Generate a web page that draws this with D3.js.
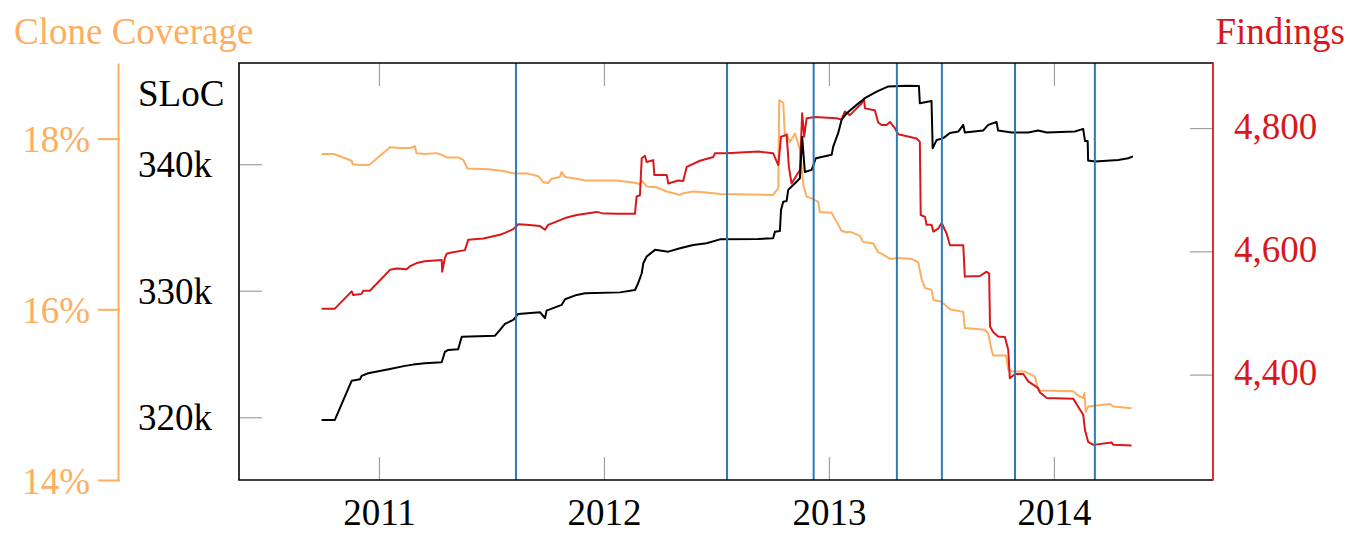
<!DOCTYPE html>
<html><head><meta charset="utf-8">
<script src="https://cdn.jsdelivr.net/npm/d3@7"></script>
<style>
body{margin:0;background:#fff}
svg{display:block}
text{font-family:"Liberation Serif","DejaVu Serif",serif}
</style>
</head><body>
<svg id="chart" width="1351" height="546"></svg>
<script>
// ---- data (time as decimal year) ----
const yearTicks = [2011, 2012, 2013, 2014];
const slocTicks = [320, 330, 340];
const findingsTicks = [4400, 4600, 4800];
const cloneTicks = [14, 16, 18];
const releases = [2011.609, 2012.547, 2012.932, 2013.302, 2013.502, 2013.827, 2014.182];

const sloc = [[2010.745,319.79],[2010.804,319.79],[2010.879,322.89],[2010.916,323.0],[2010.923,323.27],[2010.952,323.48],[2011.049,323.82],[2011.116,324.06],[2011.152,324.16],[2011.204,324.27],[2011.279,324.35],[2011.293,325.16],[2011.308,325.32],[2011.352,325.38],[2011.368,326.37],[2011.516,326.45],[2011.538,326.9],[2011.560,327.38],[2011.597,327.69],[2011.619,328.17],[2011.716,328.3],[2011.738,327.83],[2011.745,328.43],[2011.812,328.88],[2011.827,329.33],[2011.879,329.67],[2011.916,329.8],[2012.071,329.87],[2012.138,330.06],[2012.152,330.59],[2012.168,331.38],[2012.175,332.17],[2012.190,332.7],[2012.227,333.23],[2012.286,333.09],[2012.338,333.36],[2012.397,333.62],[2012.456,333.75],[2012.516,334.06],[2012.686,334.09],[2012.752,334.15],[2012.760,334.67],[2012.782,334.73],[2012.787,336.39],[2012.797,337.04],[2012.812,337.1],[2012.819,337.97],[2012.856,338.62],[2012.871,338.89],[2012.881,342.16],[2012.893,339.39],[2012.923,339.55],[2012.942,340.47],[2013.012,340.74],[2013.019,341.39],[2013.041,342.45],[2013.056,343.5],[2013.079,344.03],[2013.123,344.69],[2013.160,345.22],[2013.212,345.74],[2013.264,346.15],[2013.345,346.21],[2013.400,346.19],[2013.404,344.82],[2013.456,345.0],[2013.461,341.26],[2013.479,341.92],[2013.508,342.06],[2013.538,342.47],[2013.575,342.58],[2013.597,343.11],[2013.604,342.51],[2013.686,342.67],[2013.708,343.11],[2013.745,343.34],[2013.752,342.66],[2013.812,342.5],[2013.886,342.5],[2013.930,342.66],[2013.968,342.51],[2014.093,342.58],[2014.130,342.79],[2014.138,341.84],[2014.150,341.84],[2014.152,340.3],[2014.182,340.21],[2014.286,340.34],[2014.330,340.47],[2014.351,340.62]];

const findings = [[2010.745,4507],[2010.804,4507],[2010.879,4535],[2010.886,4529],[2010.923,4531],[2010.930,4536],[2010.960,4536],[2011.049,4570],[2011.079,4572],[2011.123,4571],[2011.138,4576],[2011.168,4581],[2011.204,4584],[2011.279,4586],[2011.281,4567],[2011.293,4589],[2011.301,4596],[2011.323,4598],[2011.382,4602],[2011.397,4619],[2011.464,4621],[2011.538,4627],[2011.560,4630],[2011.597,4636],[2011.619,4644],[2011.656,4643],[2011.716,4641],[2011.738,4635],[2011.752,4643],[2011.827,4654],[2011.879,4659],[2011.916,4661],[2011.968,4664],[2011.990,4662],[2012.056,4661],[2012.138,4661],[2012.145,4689],[2012.160,4691],[2012.168,4751],[2012.182,4755],[2012.190,4745],[2012.219,4748],[2012.224,4724],[2012.279,4724],[2012.286,4710],[2012.330,4715],[2012.352,4714],[2012.368,4737],[2012.427,4747],[2012.486,4753],[2012.493,4759],[2012.545,4759],[2012.686,4762],[2012.752,4759],[2012.775,4740],[2012.787,4786],[2012.812,4789],[2012.822,4737],[2012.834,4710],[2012.871,4732],[2012.881,4824],[2012.890,4786],[2012.901,4816],[2012.938,4818],[2013.034,4816],[2013.056,4814],[2013.071,4827],[2013.093,4821],[2013.123,4832],[2013.145,4840],[2013.156,4848],[2013.160,4832],[2013.204,4829],[2013.219,4809],[2013.234,4805],[2013.256,4805],[2013.271,4810],[2013.293,4800],[2013.308,4790],[2013.390,4783],[2013.404,4778],[2013.408,4659],[2013.427,4656],[2013.434,4643],[2013.456,4643],[2013.464,4632],[2013.486,4637],[2013.501,4646],[2013.523,4629],[2013.538,4610],[2013.597,4610],[2013.604,4559],[2013.671,4560],[2013.701,4567],[2013.712,4564],[2013.716,4478],[2013.730,4469],[2013.752,4462],[2013.782,4461],[2013.797,4440],[2013.804,4394],[2013.827,4401],[2013.864,4401],[2013.886,4389],[2013.930,4378],[2013.938,4371],[2013.968,4362],[2014.086,4361],[2014.108,4348],[2014.130,4335],[2014.138,4310],[2014.152,4291],[2014.175,4286],[2014.256,4290],[2014.264,4286],[2014.345,4285]];

const cloneCoverage = [[2010.745,17.82],[2010.800,17.82],[2010.879,17.74],[2010.883,17.70],[2010.916,17.69],[2010.957,17.69],[2011.049,17.90],[2011.093,17.89],[2011.138,17.89],[2011.160,17.91],[2011.166,17.83],[2011.204,17.82],[2011.256,17.83],[2011.279,17.81],[2011.301,17.78],[2011.352,17.78],[2011.375,17.75],[2011.394,17.65],[2011.486,17.64],[2011.552,17.62],[2011.604,17.59],[2011.664,17.59],[2011.708,17.56],[2011.730,17.49],[2011.752,17.48],[2011.768,17.53],[2011.804,17.55],[2011.812,17.61],[2011.827,17.55],[2011.879,17.53],[2011.916,17.51],[2012.056,17.51],[2012.145,17.48],[2012.160,17.46],[2012.168,17.51],[2012.190,17.44],[2012.234,17.43],[2012.279,17.38],[2012.338,17.34],[2012.352,17.36],[2012.397,17.38],[2012.456,17.37],[2012.516,17.35],[2012.752,17.34],[2012.775,17.42],[2012.779,18.45],[2012.797,18.42],[2012.804,18.04],[2012.812,18.06],[2012.827,17.96],[2012.849,18.06],[2012.871,17.87],[2012.886,17.46],[2012.901,17.32],[2012.923,17.30],[2012.952,17.26],[2012.960,17.14],[2013.012,17.13],[2013.056,16.92],[2013.079,16.90],[2013.093,16.91],[2013.138,16.86],[2013.152,16.79],[2013.197,16.77],[2013.219,16.67],[2013.241,16.64],[2013.271,16.59],[2013.308,16.60],[2013.368,16.59],[2013.397,16.55],[2013.412,16.35],[2013.427,16.25],[2013.456,16.23],[2013.464,16.11],[2013.501,16.09],[2013.538,16.00],[2013.597,15.97],[2013.604,15.78],[2013.693,15.76],[2013.708,15.72],[2013.723,15.52],[2013.730,15.46],[2013.787,15.46],[2013.797,15.29],[2013.819,15.27],[2013.871,15.27],[2013.916,15.21],[2013.930,15.05],[2014.086,15.04],[2014.107,14.99],[2014.130,14.96],[2014.136,15.02],[2014.141,14.80],[2014.152,14.86],[2014.249,14.89],[2014.264,14.86],[2014.345,14.84]];

// ---- layout ----
const L = 239, R = 1213, T = 63, B = 480;
const FS = 37;
const FONT = '"Liberation Serif","DejaVu Serif",serif';
const ORANGE = "#fdae61", RED = "#d7191c", BLUE = "#2c7bb6", GRAY = "#a0a0a0";

const svg = d3.select("#chart");

const x = d3.scaleLinear().domain([2010.378, 2014.707]).range([L, R]);
const ySloc = d3.scaleLinear().domain([315.04, 348.0]).range([B, T]);
const yFind = d3.scaleLinear().domain([4229, 4905.6]).range([B, T]);
const yClone = d3.scaleLinear().domain([14, 18.886]).range([B, T]);

function styleAxis(g, color, textColor) {
  g.attr("font-family", null).attr("font-size", null);
  g.selectAll(".tick line").attr("stroke", color).attr("stroke-width", 1.2);
  g.selectAll(".tick text").attr("fill", textColor).style("font-size", FS + "px")
    .style("font-family", FONT);
}

// x axis bottom (ticks inward) with labels
const xAxisB = svg.append("g").attr("transform", `translate(0,${B})`)
  .call(d3.axisBottom(x).tickValues(yearTicks).tickFormat(d3.format("d"))
    .tickSizeInner(-23).tickSizeOuter(0).tickPadding(19));
xAxisB.select(".domain").remove();
styleAxis(xAxisB, GRAY, "#000");

// x axis top ticks
const xAxisT = svg.append("g").attr("transform", `translate(0,${T})`)
  .call(d3.axisTop(x).tickValues(yearTicks).tickFormat("").tickSizeInner(-23).tickSizeOuter(0));
xAxisT.select(".domain").remove();
styleAxis(xAxisT, GRAY, "#000");

// SLoC axis (left, inner ticks)
const slocAxis = svg.append("g").attr("transform", `translate(${L},0)`)
  .call(d3.axisLeft(ySloc).tickValues(slocTicks).tickFormat(d => d + "k")
    .tickSizeInner(-23).tickSizeOuter(0).tickPadding(18));
slocAxis.select(".domain").remove();
styleAxis(slocAxis, GRAY, "#000");
slocAxis.selectAll(".tick text").attr("dy", "0.34em").attr("text-anchor", "start").attr("x", 138 - L);

// Findings axis (right, inner ticks)
const findAxis = svg.append("g").attr("transform", `translate(${R},0)`)
  .call(d3.axisRight(yFind).tickValues(findingsTicks).tickFormat(d3.format(","))
    .tickSizeInner(-23).tickSizeOuter(0).tickPadding(21));
findAxis.select(".domain").remove();
styleAxis(findAxis, GRAY, RED);
findAxis.selectAll(".tick text").attr("dy", "0.27em");

// Clone coverage axis (separate, left)
const cloneAxis = svg.append("g").attr("transform", `translate(118,0)`)
  .call(d3.axisLeft(yClone).tickValues(cloneTicks).tickFormat(d => d + "%")
    .tickSizeInner(20).tickSizeOuter(0).tickPadding(8));
cloneAxis.select(".domain").attr("stroke", ORANGE).attr("stroke-width", 2);
styleAxis(cloneAxis, ORANGE, ORANGE);
cloneAxis.selectAll(".tick line").attr("stroke-width", 2).attr("x2", -20).attr("x1", 2);
cloneAxis.selectAll(".tick text").attr("dy", "0.36em");

// data lines
const plot = svg.append("g");
const lineSloc = d3.line().x(d => x(d[0])).y(d => ySloc(d[1]));
const lineFind = d3.line().x(d => x(d[0])).y(d => yFind(d[1]));
const lineClone = d3.line().x(d => x(d[0])).y(d => yClone(d[1]));

plot.append("path").datum(cloneCoverage).attr("d", lineClone)
  .attr("fill", "none").attr("stroke", ORANGE).attr("stroke-width", 2).attr("stroke-linejoin", "round");
plot.append("path").datum(findings).attr("d", lineFind)
  .attr("fill", "none").attr("stroke", RED).attr("stroke-width", 2).attr("stroke-linejoin", "round");
plot.append("path").datum(sloc).attr("d", lineSloc)
  .attr("fill", "none").attr("stroke", "#000").attr("stroke-width", 2).attr("stroke-linejoin", "round");

// release markers
plot.selectAll("line.release").data(releases).join("line").attr("class", "release")
  .attr("x1", d => x(d)).attr("x2", d => x(d)).attr("y1", T).attr("y2", B)
  .attr("stroke", BLUE).attr("stroke-width", 2);

// frame
svg.append("path").attr("d", `M${R},${T}H${L}V${B}H${R}`)
  .attr("fill", "none").attr("stroke", "#000").attr("stroke-width", 1.6);
svg.append("line").attr("x1", R).attr("x2", R).attr("y1", T - 0.8).attr("y2", B + 0.8)
  .attr("stroke", RED).attr("stroke-width", 1.8);

// titles
svg.append("text").attr("x", 14).attr("y", 44).attr("fill", ORANGE)
  .style("font-family", FONT).style("font-size", FS + "px").text("Clone Coverage");
svg.append("text").attr("x", 1345).attr("y", 44).attr("fill", RED).attr("text-anchor", "end")
  .style("font-family", FONT).style("font-size", FS + "px").text("Findings");
svg.append("text").attr("x", 138).attr("y", 106).attr("fill", "#000")
  .style("font-family", FONT).style("font-size", FS + "px").text("SLoC");
</script>
</body></html>
